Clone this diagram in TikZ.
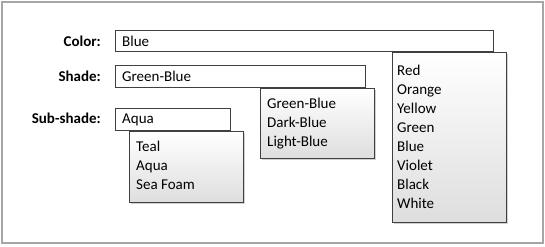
\documentclass[tikz,border=0pt]{standalone}
\usepackage{fontspec}
\setmainfont{Carlito}
\usetikzlibrary{shadows}
\definecolor{frame}{HTML}{A6A6A6}
\definecolor{edge}{HTML}{404040}
\begin{document}
\begin{tikzpicture}[x=1pt,y=-1pt,
  txt/.style={anchor=base west, inner sep=0, font=\fontsize{15}{19}\selectfont},
  lbl/.style={anchor=base east, inner sep=0, font=\fontsize{15}{19}\selectfont\bfseries},
  field/.style={draw=edge, fill=white, line width=0.8pt, anchor=north west, inner sep=0},
  listbox/.style={draw=edge, line width=0.8pt, anchor=north west, inner sep=0,
     top color=white, bottom color=black!13,
     drop shadow={shadow xshift=2pt, shadow yshift=-2pt, fill=black, opacity=0.18}}
]
\useasboundingbox (0,0) rectangle (545,246);
\draw[frame, line width=2pt] (2,2) rectangle (543,243);

% fields
\node[field, minimum width=378pt, minimum height=21pt] (colorf) at (115,30) {};
\node[field, minimum width=250pt, minimum height=22pt] (shadef) at (115,65) {};
\node[field, minimum width=115pt, minimum height=22pt] (subf) at (115,108) {};

% labels
\node[lbl] (colorl) at (101,46) {Color:};
\node[lbl] (shadel) at (101,81) {Shade:};
\node[lbl] (subl) at (101,123) {Sub-shade:};

% field values
\node[txt] (colorv) at (122,46) {Blue};
\node[txt] (shadev) at (122,81) {Green-Blue};
\node[txt] (subv) at (122,123) {Aqua};

% dropdown lists
\node[listbox, minimum width=114pt, minimum height=170pt] (colorlist) at (392,52) {};
\node[listbox, minimum width=114pt, minimum height=70pt] (shadelist) at (260,88) {};
\node[listbox, minimum width=114pt, minimum height=71pt] (sublist) at (129,131) {};

\foreach \t [count=\i] in {Red,Orange,Yellow,Green,Blue,Violet,Black,White}
  \node[txt] (ci\i) at (397,{75+19*(\i-1)}) {\t};
\foreach \t [count=\i] in {Green-Blue,Dark-Blue,Light-Blue}
  \node[txt] (si\i) at (267,{108.5+19*(\i-1)}) {\t};
\foreach \t [count=\i] in {Teal,Aqua,Sea Foam}
  \node[txt] (ssi\i) at (136,{151+19*(\i-1)}) {\t};
\end{tikzpicture}
\end{document}
